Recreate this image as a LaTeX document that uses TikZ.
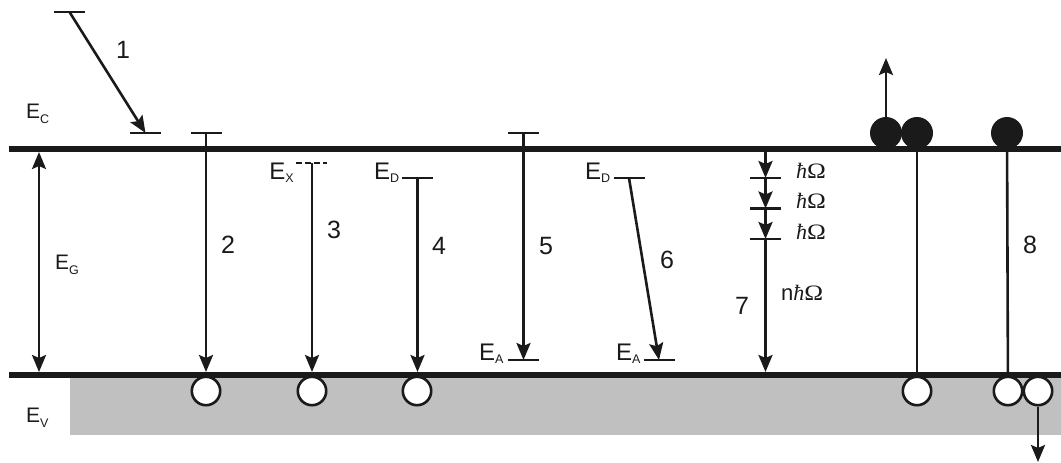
\documentclass[tikz,border=0pt]{standalone}
\usepackage{fontspec}
\setmainfont{Liberation Sans}
\newfontfamily\serifface{Liberation Serif}
\usepackage{graphicx}
\usetikzlibrary{arrows.meta}
\definecolor{ink}{HTML}{1A1A1A}
\definecolor{bandgray}{HTML}{C0C0C0}
\newcommand\Eb[1]{E\raisebox{-3.5pt}{\fontsize{12.5pt}{13pt}\selectfont #1}}
\newcommand\Es[1]{E\raisebox{-5.5pt}{\fontsize{12.5pt}{13pt}\selectfont #1}}
\newcommand\hO{{\serifface\itshape ħ}\scalebox{1.15}[1]{\serifface Ω}}
\tikzset{
  bandline/.style={line width=6pt, draw=ink},
  tick/.style={rectangle, fill=ink, inner sep=0pt, minimum width=31pt, minimum height=2.8pt},
  dtick/.style={line width=2.8pt, draw=ink, dash pattern=on 6pt off 3pt},
  trans/.style={line width=2.6pt, draw=ink},
  arr/.style={trans, -{Stealth[length=17pt,width=14pt,inset=3pt]}},
  darr/.style={trans, {Stealth[length=17pt,width=14pt,inset=3pt]}-{Stealth[length=17pt,width=14pt,inset=3pt]}},
  hole/.style={circle, draw=ink, fill=white, line width=2.6pt, minimum size=28.4pt, inner sep=0pt},
  dot/.style={circle, fill=ink, minimum size=32pt, inner sep=0pt},
  num/.style={font=\fontsize{25}{30}\selectfont, inner sep=0pt, text=ink},
  lab/.style={font=\fontsize{24}{28}\selectfont, inner sep=0pt, text=ink},
  slab/.style={font=\fontsize{21}{25}\selectfont, inner sep=0pt, text=ink, anchor=base west},
  hw/.style={font=\fontsize{22}{26}\selectfont, inner sep=0pt, anchor=base west, text=ink},
}
\begin{document}
\begin{tikzpicture}[x=1pt, y=-1pt]
\useasboundingbox (0,0) rectangle (1061,463);
% valence band shading
\fill[bandgray] (70,378) rectangle (1061,435);
% holes
\node[hole] (h1) at (206,391) {};
\node[hole] (h2) at (312,391) {};
\node[hole] (h3) at (417,391) {};
\node[hole] (h4) at (917,391) {};
\node[hole] (h5) at (1008,391) {};
\node[hole] (h6) at (1038,391) {};
% band edges
\draw[bandline] (9,149) -- (1061,149);
\draw[bandline] (9,375) -- (1061,375);
% levels (ticks)
\node[tick] (t1a) at (69.5,12) {};
\node[tick] (t1b) at (145.5,133) {};
\node[tick] (t2) at (206,133) {};
\coordinate (tx) at (312,163);
\draw[dtick] (296,163) -- (327,163);
\node[tick] (t4) at (417.5,178) {};
\node[tick] (t5) at (523.5,133) {};
\node[tick] (t5b) at (523.5,360) {};
\node[tick] (t6) at (629,178) {};
\node[tick] (t6b) at (659,360) {};
\node[tick] (t7a) at (765.5,178) {};
\node[tick] (t7b) at (765.5,208.5) {};
\node[tick] (t7c) at (765.5,239) {};
% arrow targets on valence band edge
\coordinate (g1) at (39,152);
\coordinate (g2) at (39,372);
\coordinate (v2) at (206,372);
\coordinate (v3) at (312,372);
\coordinate (v4) at (417.5,372);
\coordinate (c7) at (765.5,152);
\coordinate (v7) at (765.5,372);
% transitions
\draw[arr] (t1a.center) -- (t1b.center);
\draw[darr] (g1) -- (g2);
\draw[arr] (t2.center) -- (v2);
\draw[arr] (tx) -- (v3);
\draw[arr] (t4.center) -- (v4);
\draw[arr] (t5.center) -- (t5b.center);
\draw[arr] (t6.center) -- (t6b.center);
\draw[arr] (c7) -- (t7a.center);
\draw[arr] (t7a.center) -- (t7b.center);
\draw[arr] (t7b.center) -- (t7c.center);
\draw[arr] (t7c.center) -- (v7);
% electrons
\node[dot] (d1) at (886,133) {};
\node[dot] (d2) at (917,133) {};
\node[dot] (d3) at (1007,133) {};
\coordinate (up) at (886,58);
\coordinate (down) at (1038,462);
\draw[arr] (d1.north) -- (up);
\draw[arr] (h6.south) -- (down);
\draw[trans] (d2) -- (h4);
\draw[trans] (d3) -- (h5);
% numbers
\node[num] (n1) at (123,50) {1};
\node[num] (n2) at (228,245) {2};
\node[num] (n3) at (334,230) {3};
\node[num] (n4) at (439,246) {4};
\node[num] (n5) at (546,246) {5};
\node[num] (n6) at (667,260) {6};
\node[num] (n7) at (742,306) {7};
\node[num] (n8) at (1030,245) {8};
% energy labels
\node[slab] (lc) at (26,118) {\Es{C}};
\node[slab] (lg) at (55,269) {\Es{G}};
\node[slab] (lv) at (26,422) {\Es{V}};
\node[lab, anchor=base east] (lx) at (294,179) {\Eb{X}};
\node[lab, anchor=base west] (ld1) at (374,179) {\Eb{D}};
\node[lab, anchor=base west] (ld2) at (585,179) {\Eb{D}};
\node[lab, anchor=base west] (la1) at (479,360) {\Eb{A}};
\node[lab, anchor=base west] (la2) at (616,360) {\Eb{A}};
% phonon labels
\node[hw] (p1) at (796,178) {\hO};
\node[hw] (p2) at (796,208) {\hO};
\node[hw] (p3) at (796,239) {\hO};
\node[hw] (pn) at (781,300) {n\hO};
\end{tikzpicture}
\end{document}
